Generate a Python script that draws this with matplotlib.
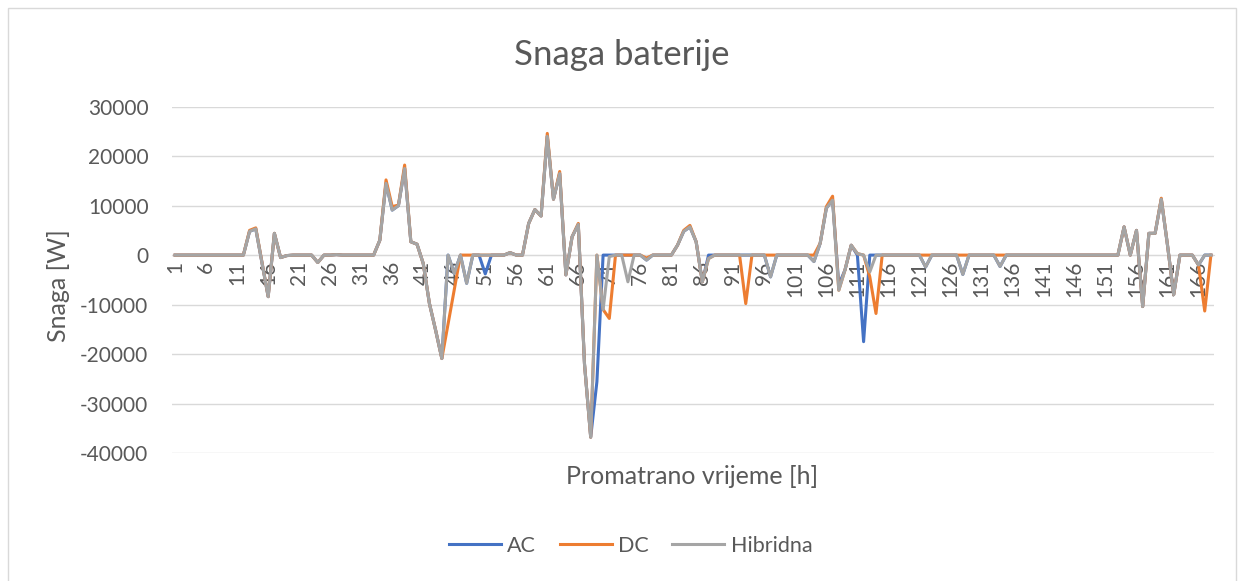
import matplotlib.pyplot as plt
from matplotlib.patches import Rectangle

plt.rcParams['font.family'] = ['Lato', 'DejaVu Sans']

# Sati 1..168
hours = list(range(1, 169))

hibridna = [
    0, 0, 0, 0, 0, 0, 0, 0, 0, 0,
    0, 0, 4800, 5300, -1500, -8400, 4400, -500, -100, 0,
    0, 0, 0, -1500, 0, 0, 100, 0, 0, 0,
    0, 0, 0, 3000, 14500, 9100, 10000, 17500, 2700, 2200,
    -1700, -9800, -15200, -20900, 0, -3700, 0, -5700, 0, 0,
    0, 0, 0, 0, 500, 0, 0, 6400, 9200, 7900,
    24000, 11300, 16500, -4000, 3700, 6200, -22000, -36800, 0, -11000,
    -300, 0, 0, -5400, 0, 0, -1000, 0, 0, 0,
    0, 2000, 4800, 5700, 2700, -5400, -700, 0, 0, 0,
    0, 0, 0, 0, 0, 0, -4400, 0, 0, 0,
    0, 0, 0, -1300, 2400, 9500, 11100, -7100, -3000, 2000,
    300, 0, -3400, 0, 0, 0, 0, 0, 0, 0,
    0, -2400, 0, 0, 0, 0, 0, -3900, 0, 0,
    0, 0, 0, -2300, 0, 0, 0, 0, 0, 0,
    0, 0, 0, 0, 0, 0, 0, 0, 0, 0,
    0, 0, 0, 5700, 0, 5000, -10400, 4400, 4400, 11300,
    2000, -8000, 0, 0, 0, -2000, 0, 0,
]

dc = [
    0, 0, 0, 0, 0, 0, 0, 0, 0, 0,
    0, 0, 5000, 5500, -1500, -8400, 4400, -500, -100, 0,
    0, 0, 0, -1500, 0, 0, 100, 0, 0, 0,
    0, 0, 0, 3000, 15200, 9800, 10100, 18200, 2700, 2200,
    -1700, -9800, -15200, -20900, -14000, -7000, 0, 0, 0, 0,
    0, 0, 0, 0, 500, 0, 0, 6400, 9200, 7900,
    24600, 11300, 16900, -4000, 3700, 6400, -22000, -36800, 0, -11000,
    -12800, 0, 0, 0, 0, 0, -600, 0, 0, 0,
    0, 2000, 5000, 6000, 2700, -5400, -700, 0, 0, 0,
    0, 0, -9800, 0, 0, 0, 0, 0, 0, 0,
    0, 0, 0, 0, 2400, 9800, 11900, -7100, -3000, 2000,
    300, 0, -4400, -11800, 0, 0, 0, 0, 0, 0,
    0, 0, 0, 0, 0, 0, 0, 0, 0, 0,
    0, 0, 0, 0, 0, 0, 0, 0, 0, 0,
    0, 0, 0, 0, 0, 0, 0, 0, 0, 0,
    0, 0, 0, 5700, 0, 5000, -10400, 4400, 4400, 11500,
    2000, -8000, 0, 0, 0, -2000, -11300, 0,
]

ac = [
    0, 0, 0, 0, 0, 0, 0, 0, 0, 0,
    0, 0, 4800, 5300, -1500, -8400, 4400, -500, -100, 0,
    0, 0, 0, -1500, 0, 0, 100, 0, 0, 0,
    0, 0, 0, 3000, 14500, 9100, 10000, 17500, 2700, 2200,
    -1700, -9800, -15200, -20900, 0, -3700, 0, -5700, 0, 0,
    -3800, 0, 0, 0, 500, 0, 0, 6400, 9200, 7900,
    24000, 11300, 16500, -4000, 3700, 6200, -22000, -36800, -25600, 0,
    0, 0, 0, 0, 0, 0, -1000, 0, 0, 0,
    0, 2000, 4800, 5700, 2700, -5400, 0, 0, 0, 0,
    0, 0, 0, 0, 0, 0, -4400, 0, 0, 0,
    0, 0, 0, -1300, 2400, 9500, 11100, -6000, -3000, 2000,
    0, -17500, 0, 0, 0, 0, 0, 0, 0, 0,
    0, -2400, 0, 0, 0, 0, 0, -3900, 0, 0,
    0, 0, 0, -2300, 0, 0, 0, 0, 0, 0,
    0, 0, 0, 0, 0, 0, 0, 0, 0, 0,
    0, 0, 0, 5700, 0, 5000, -10400, 4400, 4400, 11300,
    2000, -8000, 0, 0, 0, -2000, 0, 0,
]

tick_hours = list(range(1, 169, 5))
y_ticks = [-40000, -30000, -20000, -10000, 0, 10000, 20000, 30000]

txt = '#595959'

fig = plt.figure(figsize=(12.44, 5.81), dpi=100)
fig.patches.append(Rectangle((0.0065, -0.05), 0.987, 1.036, transform=fig.transFigure,
                             fill=False, edgecolor='#D9D9D9', lw=1))
ax = fig.add_axes([0.1383, 0.2203, 0.8376, 0.5961])

ax.plot(hours, ac, color='#4472C4', lw=2.2, label='AC')
ax.plot(hours, dc, color='#ED7D31', lw=2.2, label='DC')
ax.plot(hours, hibridna, color='#A5A5A5', lw=2.2, label='Hibridna')

# os x prolazi kroz nulu
for s in ['top', 'right', 'left']:
    ax.spines[s].set_visible(False)
ax.spines['bottom'].set_position(('data', 0))
ax.spines['bottom'].set_color('#D9D9D9')
ax.spines['bottom'].set_zorder(0.5)

ax.set_xlim(0.5, 168.5)
ax.set_ylim(-40000, 30000)
ax.set_yticks(y_ticks)
ax.set_yticklabels([str(v) for v in y_ticks])
ax.set_xticks(tick_hours)
ax.set_xticklabels([str(h) for h in tick_hours])
ax.tick_params(axis='both', length=0, labelsize=15, labelcolor=txt)
ax.tick_params(axis='y', pad=17)
ax.tick_params(axis='x', pad=4, labelrotation=90)

ax.grid(axis='y', color='#D9D9D9', lw=1)
ax.set_axisbelow(True)

fig.text(0.5, 1 - 55 / 581, 'Snaga baterije', ha='center', va='center', fontsize=25, color=txt)
fig.text(59 / 1244, 1 - 286 / 581, 'Snaga [W]', rotation=90, ha='center', va='center',
         fontsize=18, color=txt)
fig.text(692 / 1244, 1 - 476 / 581, 'Promatrano vrijeme [h]', ha='center', va='center',
         fontsize=18, color=txt)

leg = fig.legend(loc='center', bbox_to_anchor=(0.507, 1 - 546 / 581), ncol=3, frameon=False,
                 fontsize=15.5, handlelength=2.4, columnspacing=1.1, handletextpad=0.3)
for t in leg.get_texts():
    t.set_color(txt)

fig.savefig('out.png', dpi=100)
